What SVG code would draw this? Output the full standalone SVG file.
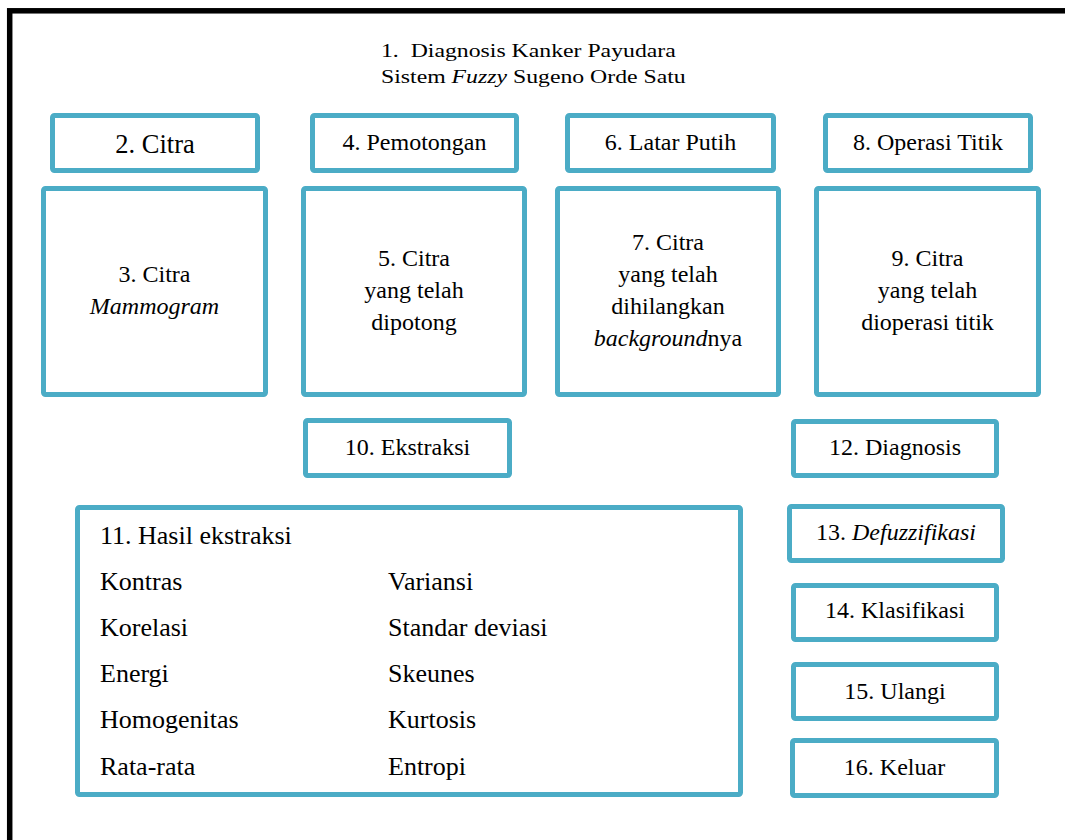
<svg xmlns="http://www.w3.org/2000/svg" width="1065" height="840" viewBox="0 0 1065 840">
<style>
.box{fill:#fff;stroke:#4BACC6;stroke-width:5;}
text{font-family:"Liberation Serif","Times New Roman",serif;fill:#000;}
.c{font-size:24px;text-anchor:middle;}
.l{font-size:26px;}
.i{font-style:italic;}
</style>
<rect x="0" y="0" width="1065" height="840" fill="#fff"/>
<rect id="frame" x="9.7" y="10.8" width="1100" height="900" fill="none" stroke="#000" stroke-width="5.5"/>
<g id="connectors"></g>
<g id="n1">
<text transform="translate(381,57) scale(1.25,1)" font-size="19" xml:space="preserve">1.  Diagnosis Kanker Payudara</text>
<text transform="translate(381,83) scale(1.25,1)" font-size="19">Sistem <tspan class="i">Fuzzy</tspan> Sugeno Orde Satu</text>
</g>
<g id="n2"><rect class="box" x="52.5" y="115.5" width="205" height="55" rx="2"/><text class="c" x="155" y="153" style="font-size:26.5px">2. Citra</text></g>
<g id="n3"><rect class="box" x="43.5" y="188.5" width="222" height="206" rx="2"/><text class="c" x="154.5" y="282">3. Citra</text><text class="c i" x="154.5" y="314">Mammogram</text></g>
<g id="n4"><rect class="box" x="312.5" y="115.5" width="204" height="55" rx="2"/><text class="c" x="414.5" y="150">4. Pemotongan</text></g>
<g id="n5"><rect class="box" x="303.5" y="188.5" width="221" height="206" rx="2"/><text class="c" x="414" y="266">5. Citra</text><text class="c" x="414" y="298">yang telah</text><text class="c" x="414" y="330">dipotong</text></g>
<g id="n6"><rect class="box" x="567.5" y="115.5" width="206" height="55" rx="2"/><text class="c" x="670.5" y="150">6. Latar Putih</text></g>
<g id="n7"><rect class="box" x="557.5" y="188.5" width="221" height="206" rx="2"/><text class="c" x="668" y="250">7. Citra</text><text class="c" x="668" y="282">yang telah</text><text class="c" x="668" y="314">dihilangkan</text><text class="c" x="668" y="346"><tspan class="i">background</tspan>nya</text></g>
<g id="n8"><rect class="box" x="825.5" y="115.5" width="205" height="55" rx="2"/><text class="c" x="928" y="150">8. Operasi Titik</text></g>
<g id="n9"><rect class="box" x="816.5" y="188.5" width="222" height="206" rx="2"/><text class="c" x="927.5" y="266">9. Citra</text><text class="c" x="927.5" y="298">yang telah</text><text class="c" x="927.5" y="330">dioperasi titik</text></g>
<g id="n10"><rect class="box" x="305.5" y="420.5" width="204" height="55" rx="2"/><text class="c" x="407.5" y="455">10. Ekstraksi</text></g>
<g id="n11"><rect class="box" x="77.5" y="507.5" width="663" height="287" rx="2"/>
<text class="l" x="100" y="544">11. Hasil ekstraksi</text>
<text class="l" x="100" y="590">Kontras</text><text class="l" x="388" y="590">Variansi</text>
<text class="l" x="100" y="636">Korelasi</text><text class="l" x="388" y="636">Standar deviasi</text>
<text class="l" x="100" y="682">Energi</text><text class="l" x="388" y="682">Skeunes</text>
<text class="l" x="100" y="728">Homogenitas</text><text class="l" x="388" y="728">Kurtosis</text>
<text class="l" x="100" y="775">Rata-rata</text><text class="l" x="388" y="775">Entropi</text>
</g>
<g id="n12"><rect class="box" x="793.5" y="421.5" width="203" height="54" rx="2"/><text class="c" x="895" y="455">12. Diagnosis</text></g>
<g id="n13"><rect class="box" x="789.5" y="506.5" width="213" height="54" rx="2"/><text class="c" x="896" y="540">13. <tspan class="i">Defuzzifikasi</tspan></text></g>
<g id="n14"><rect class="box" x="793.5" y="585.5" width="203" height="54" rx="2"/><text class="c" x="895" y="618">14. Klasifikasi</text></g>
<g id="n15"><rect class="box" x="793.5" y="664.5" width="203" height="54" rx="2"/><text class="c" x="895" y="699">15. Ulangi</text></g>
<g id="n16"><rect class="box" x="792.5" y="740.5" width="204" height="55" rx="2"/><text class="c" x="894.5" y="775">16. Keluar</text></g>
</svg>
